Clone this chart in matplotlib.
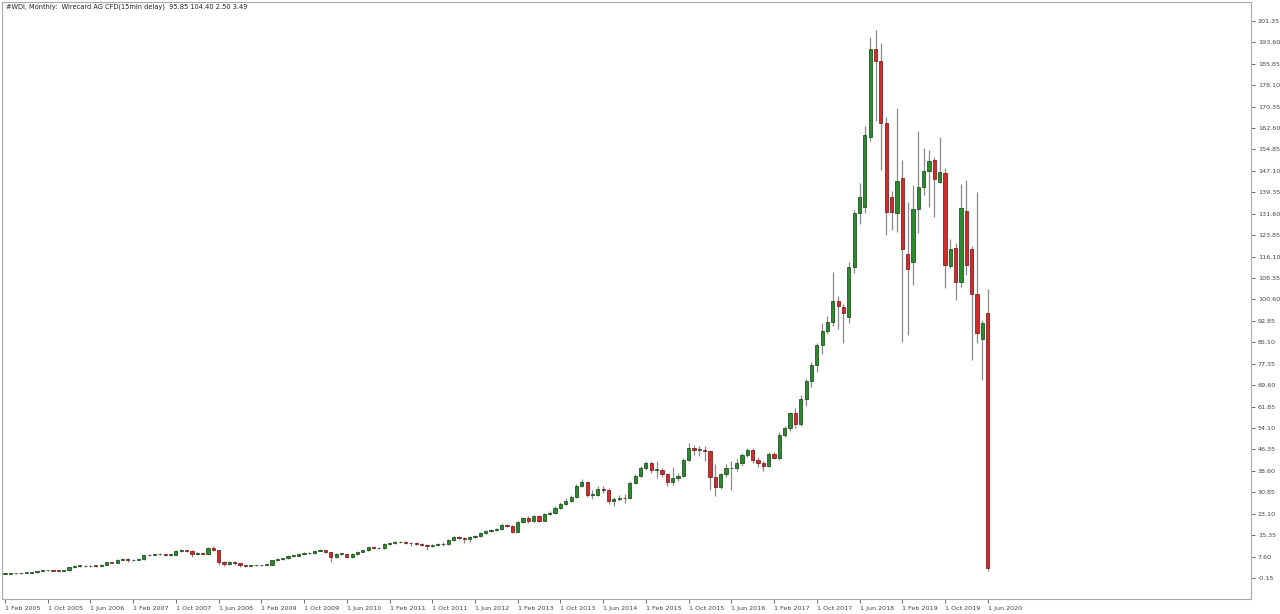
import matplotlib
matplotlib.use("Agg")
import matplotlib.pyplot as plt
from matplotlib.patches import Rectangle

opens = [1.3,1.4,1.5,1.5,1.6,1.7,1.9,2.3,2.6,2.6,2.5,2.4,2.6,3.7,4.2,4.3,4.1,4.3,4.2,4.6,
 5.5,5.4,6.4,6.8,6.2,6.5,6.6,8.0,8.3,8.4,8.5,8.2,8.3,9.7,9.8,9.5,8.5,8.8,8.6,10.7,
 9.9,5.5,5.0,5.7,5.1,4.4,4.3,4.4,4.4,4.5,4.7,6.3,6.6,6.9,7.8,7.9,8.6,8.8,8.8,9.7,
 9.9,9.2,7.3,8.5,8.5,7.4,8.5,9.3,9.8,10.9,10.8,10.6,12.1,12.4,12.7,13.0,12.5,12.4,12.1,11.9,
 11.3,11.8,12.0,12.1,13.6,14.8,14.3,13.8,14.5,15.0,16.0,16.9,17.2,17.5,19.1,18.7,16.6,20.0,21.5,20.3,
 22.3,20.6,22.9,23.2,25.3,26.6,27.8,29.1,33.3,34.5,29.9,29.9,32.0,31.7,27.8,28.3,28.9,28.7,34.1,36.7,
 39.5,41.3,39.0,39.0,37.4,34.4,35.9,36.8,42.5,46.7,46.1,46.1,45.8,36.2,32.8,37.4,39.5,39.5,41.3,44.2,
 46.1,42.5,41.4,40.4,44.6,43.3,51.6,54.0,59.5,55.6,64.6,71.0,77.0,84.2,89.2,92.5,100.0,97.9,94.4,112.5,
 131.8,134.0,159.5,191.1,187.0,164.6,137.8,132.0,144.5,117.0,114.0,133.3,141.4,147.0,151.0,143.0,146.4,112.8,119.2,107.0,
 132.6,118.9,102.6,86.3,95.85]
highs = [1.5,1.6,1.6,1.7,1.8,2.0,2.4,2.7,2.8,2.7,2.6,2.7,3.8,4.4,4.5,4.5,4.5,4.5,4.8,5.7,
 5.8,6.6,7.0,7.2,6.8,6.9,8.2,8.6,8.7,8.8,8.7,8.6,10.0,10.3,10.1,9.8,9.1,9.1,11.0,11.3,
 10.1,6.0,6.1,6.0,5.2,4.6,4.6,4.6,4.7,5.0,6.5,6.9,7.1,8.0,8.2,8.9,9.1,9.2,10.0,10.3,
 10.1,9.4,8.8,8.9,8.7,8.8,9.6,10.1,11.2,11.3,11.1,12.6,12.8,13.1,13.4,13.3,12.8,12.9,12.4,12.1,
 12.1,12.4,12.8,13.9,15.1,15.2,14.6,14.9,15.4,16.4,17.3,17.7,18.0,19.6,19.5,19.0,20.5,22.0,22.2,22.8,
 22.6,23.4,24.0,25.8,27.3,28.8,30.0,34.0,35.5,35.0,31.5,33.0,33.0,32.5,29.0,29.8,30.3,34.8,37.5,40.3,
 42.2,42.0,42.0,39.8,38.0,40.0,38.0,43.2,48.5,47.8,47.5,47.5,46.2,41.0,38.0,41.0,42.0,43.0,45.0,47.0,
 47.0,43.5,42.0,45.5,45.5,52.5,55.0,60.0,61.5,66.0,72.0,78.0,85.0,92.0,94.5,110.6,102.0,99.0,114.0,133.0,
 142.7,163.5,195.5,198.0,193.5,166.6,140.0,170.0,151.0,136.0,142.0,161.6,155.4,154.7,152.0,159.4,148.0,122.5,121.0,142.4,
 143.8,120.0,139.5,93.0,104.4]
lows = [1.2,1.3,1.4,1.4,1.5,1.6,1.8,2.2,2.4,2.3,2.2,2.3,2.5,3.6,4.0,3.9,3.9,4.0,4.1,4.5,
 5.2,5.3,6.2,5.6,6.0,6.3,6.5,7.8,8.1,8.1,7.8,7.9,8.1,9.4,9.2,7.4,8.3,8.3,8.5,9.5,
 4.5,4.2,4.6,4.4,4.0,4.0,4.1,4.2,4.2,4.3,4.6,6.1,6.3,6.7,7.5,7.7,8.4,8.5,8.6,9.5,
 8.9,5.7,7.1,8.1,7.1,7.2,8.3,9.1,9.6,10.4,10.2,10.4,11.9,12.2,12.4,12.2,11.6,11.8,11.5,9.9,
 11.0,11.5,11.6,11.9,13.4,14.0,12.6,12.8,14.2,14.8,15.7,16.6,17.0,17.3,18.2,16.2,16.4,19.6,19.9,20.0,
 20.1,20.4,22.5,23.0,24.9,26.2,27.4,28.9,32.8,29.3,28.5,29.6,30.5,26.5,26.0,27.6,27.0,28.4,33.8,36.2,
 38.9,38.0,36.0,36.5,33.0,33.5,35.0,36.5,42.0,44.5,44.0,42.0,31.5,29.5,32.0,36.5,31.5,38.5,40.5,43.5,
 41.5,40.0,38.5,40.0,42.8,42.5,51.0,53.0,54.0,55.0,62.0,69.0,74.5,81.0,88.0,91.0,90.0,85.0,92.0,110.0,
 128.0,132.0,158.0,165.0,147.5,124.0,125.6,125.0,85.3,87.8,105.8,124.7,138.4,134.2,130.4,142.7,104.8,112.0,100.4,105.0,
 109.5,78.7,85.0,71.5,2.5]
closes = [1.4,1.5,1.5,1.6,1.7,1.9,2.3,2.6,2.6,2.5,2.4,2.6,3.7,4.2,4.3,4.1,4.3,4.2,4.6,5.5,
 5.4,6.4,6.8,6.2,6.5,6.6,8.0,8.3,8.4,8.5,8.2,8.3,9.7,9.8,9.5,8.5,8.8,8.6,10.7,9.9,
 5.5,5.0,5.7,5.1,4.4,4.3,4.4,4.4,4.5,4.7,6.3,6.6,6.9,7.8,7.9,8.6,8.8,8.8,9.7,9.9,
 9.2,7.3,8.5,8.5,7.4,8.5,9.3,9.8,10.9,10.8,10.6,12.1,12.4,12.7,13.0,12.5,12.4,12.1,11.9,11.3,
 11.8,12.0,12.1,13.6,14.8,14.3,13.8,14.5,15.0,16.0,16.9,17.2,17.5,19.1,18.7,16.6,20.0,21.5,20.3,22.3,
 20.6,22.9,23.2,25.3,26.6,27.8,29.1,33.3,34.5,29.9,29.9,32.0,31.7,27.8,28.3,28.9,28.7,34.1,36.7,39.5,
 41.3,39.0,39.0,37.4,34.4,35.9,36.8,42.5,46.7,46.1,46.1,45.8,36.2,32.8,37.4,39.5,39.5,41.3,44.2,46.1,
 42.5,41.4,40.4,44.6,43.4,51.6,54.0,59.5,55.6,64.6,71.0,77.0,84.2,89.2,92.5,100.0,98.3,95.7,112.5,132.0,
 137.8,160.0,191.1,187.0,164.6,132.3,132.3,143.5,118.9,111.6,133.3,141.4,147.0,150.7,144.3,146.7,113.0,119.0,107.0,133.7,
 113.0,102.6,88.5,92.2,3.49]
xtick_labels = ["1 Feb 2005","1 Oct 2005","1 Jun 2006","1 Feb 2007","1 Oct 2007","1 Jun 2008",
 "1 Feb 2009","1 Oct 2009","1 Jun 2010","1 Feb 2011","1 Oct 2011","1 Jun 2012","1 Feb 2013",
 "1 Oct 2013","1 Jun 2014","1 Feb 2015","1 Oct 2015","1 Jun 2016","1 Feb 2017","1 Oct 2017",
 "1 Jun 2018","1 Feb 2019","1 Oct 2019","1 Jun 2020"]
ytick_values = [-0.15,7.60,15.35,23.10,30.85,38.60,46.35,54.10,61.85,69.60,77.35,85.10,92.85,100.60,
 108.35,116.10,123.85,131.60,139.35,147.10,154.85,162.60,170.35,178.10,185.85,193.60,201.35]
title = "#WDI, Monthly:  Wirecard AG CFD(15min delay)  95.85 104.40 2.50 3.49"

fig = plt.figure(figsize=(12.8, 6.14), dpi=100)
ax = fig.add_axes([2/1280, 15/614, 1249/1280, 597/614])
up_c, up_e = "#2b8a2b", "#0f3d0f"
dn_c, dn_e = "#d42a2a", "#6a0f0f"
w = 0.6
for i, (o, h, l, c) in enumerate(zip(opens, highs, lows, closes)):
    ax.vlines(i, l, h, color="#8a8a8a", lw=0.9, zorder=1)
    up = c >= o
    b = min(o, c); hgt = max(abs(c - o), 0.25)
    ax.add_patch(Rectangle((i - w/2, b), w, hgt, facecolor=up_c if up else dn_c,
                           edgecolor=up_e if up else dn_e, lw=0.5, zorder=2))
ax.set_xlim(-0.56, 233.3)
ax.set_ylim(-7.75, 208.2)
ax.yaxis.tick_right()
ax.set_yticks(ytick_values)
ax.set_yticklabels([f"{v:.2f}" for v in ytick_values], fontsize=4.6, color="#444444")
ax.set_xticks(range(0, 8*len(xtick_labels), 8))
ax.set_xticklabels(xtick_labels, fontsize=4.6, color="#444444", ha="left")
ax.tick_params(axis="both", length=3, width=0.6, colors="#555555", labelcolor="#444444", pad=2)
for s in ax.spines.values():
    s.set_color("#aaaaaa"); s.set_linewidth(0.8)
ax.text(0.003, 0.997, title, transform=ax.transAxes, fontsize=4.8, va="top", ha="left", color="#222222")
fig.savefig("out.png", dpi=100, facecolor="white")
